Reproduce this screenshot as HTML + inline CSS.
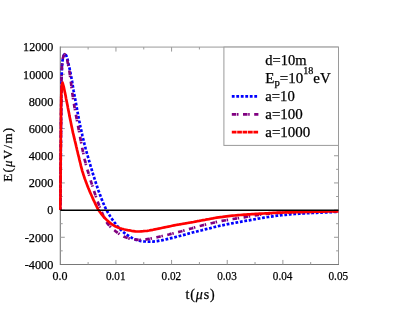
<!DOCTYPE html>
<html><head><meta charset="utf-8"><title>chart</title>
<style>html,body{margin:0;padding:0;background:#fff;overflow:hidden}svg{display:block}</style>
</head><body>
<svg width="399" height="312" viewBox="0 0 399 312">
<rect width="399" height="312" fill="#fff"/>
<path d="M60.3,47.08H338.5V264.44" fill="none" stroke="#9a9a9a" stroke-width="1.0"/>
<path d="M60.3,46.58V264.44H339.0" fill="none" stroke="#787878" stroke-width="1.1"/>
<path d="M88.12,264.44v-2.4M88.12,47.08v2.4M115.94,264.44v-4.5M115.94,47.08v4.5M143.76,264.44v-2.4M143.76,47.08v2.4M171.58,264.44v-4.5M171.58,47.08v4.5M199.40,264.44v-2.4M199.40,47.08v2.4M227.22,264.44v-4.5M255.04,264.44v-2.4M282.86,264.44v-4.5M310.68,264.44v-2.4M60.3,250.85h2.4M338.5,250.85h-2.4M60.3,237.27h4.5M338.5,237.27h-4.5M60.3,223.69h2.4M338.5,223.69h-2.4M60.3,210.10h4.5M338.5,210.10h-4.5M60.3,196.51h2.4M338.5,196.51h-2.4M60.3,182.93h4.5M338.5,182.93h-4.5M60.3,169.34h2.4M338.5,169.34h-2.4M60.3,155.76h4.5M338.5,155.76h-4.5M60.3,142.18h2.4M60.3,128.59h4.5M60.3,115.00h2.4M60.3,101.42h4.5M60.3,87.83h2.4M60.3,74.25h4.5M60.3,60.66h2.4" stroke="#9a9a9a" stroke-width="1" fill="none"/>
<path d="M60.4,210.0 L60.4,207.8 L60.4,205.6 L60.4,203.4 L60.4,201.2 L60.5,199.1 L60.5,196.9 L60.5,194.7 L60.5,192.5 L60.5,190.3 L60.5,188.1 L60.5,185.9 L60.6,183.7 L60.6,181.5 L60.6,179.4 L60.6,177.2 L60.6,175.0 L60.6,172.8 L60.6,170.6 L60.7,168.4 L60.7,166.2 L60.7,164.0 L60.7,161.8 L60.7,159.6 L60.7,157.5 L60.8,155.3 L60.8,153.1 L60.8,150.9 L60.8,148.7 L60.8,146.5 L60.8,144.3 L60.9,142.1 L60.9,139.9 L60.9,137.8 L60.9,135.6 L60.9,133.4 L61.0,131.2 L61.0,129.0 L61.0,126.8 L61.0,124.6 L61.0,122.4 L61.1,120.2 L61.1,118.1 L61.1,115.9 L61.1,113.7 L61.2,111.5 L61.2,109.3 L61.2,107.1 L61.2,104.9 L61.3,102.7 L61.3,100.5 L61.3,98.4 L61.3,96.2 L61.4,94.0 L61.4,91.8 L61.4,89.6 L61.5,87.4 L61.5,85.2 L61.5,83.0 L61.6,80.8 L61.6,78.6 L61.7,76.5 L61.7,74.3 L61.8,72.1 L61.9,69.9 L62.0,67.7 L62.1,65.5 L62.3,63.3 L62.5,61.2 L62.8,58.9 L63.3,56.8 L64.1,54.6 L65.4,54.1 L66.6,56.3 L67.3,58.4 L67.8,60.6 L68.2,62.7 L68.7,64.9 L69.2,67.0 L69.7,69.2 L70.2,71.3 L70.6,73.4 L71.0,75.6 L71.4,77.7 L71.8,79.9 L72.2,82.0 L72.5,84.2 L72.9,86.4 L73.3,88.5 L73.6,90.7 L74.0,92.8 L74.4,95.0 L74.8,97.1 L75.2,99.3 L75.6,101.5 L76.0,103.6 L76.4,105.8 L76.8,107.9 L77.2,110.1 L77.6,112.2 L78.0,114.4 L78.4,116.5 L78.8,118.7 L79.2,120.8 L79.7,123.0 L80.1,125.1 L80.5,127.3 L81.0,129.4 L81.5,131.5 L82.0,133.7 L82.4,135.8 L82.9,137.9 L83.5,140.1 L84.0,142.2 L84.5,144.3 L85.1,146.4 L85.6,148.5 L86.2,150.7 L86.8,152.8 L87.4,154.9 L88.0,157.0 L88.6,159.1 L89.2,161.2 L89.8,163.3 L90.4,165.4 L91.0,167.5 L91.7,169.6 L92.3,171.7 L92.9,173.8 L93.6,175.9 L94.3,178.0 L94.9,180.1 L95.6,182.1 L96.3,184.2 L97.0,186.3 L97.7,188.4 L98.4,190.4 L99.2,192.5 L99.9,194.6 L100.7,196.6 L101.5,198.7 L102.3,200.7 L103.1,202.7 L104.0,204.7 L104.9,206.7 L105.8,208.7 L106.8,210.6 L107.9,212.5 L109.0,214.4 L110.2,216.3 L111.4,218.1 L112.6,219.9 L113.9,221.7 L115.2,223.4 L116.6,225.2 L118.0,226.9 L119.5,228.5 L121.0,230.1 L122.6,231.5 L124.3,232.9 L126.0,234.3 L127.9,235.5 L129.7,236.6 L131.6,237.7 L133.6,238.7 L135.6,239.6 L137.7,240.3 L139.8,240.8 L142.0,241.2 L144.2,241.5 L146.3,241.5 L148.5,241.6 L150.7,241.6 L152.9,241.6 L155.1,241.4 L157.3,241.1 L159.4,240.7 L161.6,240.3 L163.7,239.9 L165.9,239.4 L168.0,238.9 L170.1,238.4 L172.3,237.9 L174.4,237.4 L176.5,236.8 L178.6,236.3 L180.7,235.7 L182.9,235.1 L185.0,234.6 L187.1,234.0 L189.2,233.4 L191.3,232.9 L193.4,232.3 L195.6,231.8 L197.7,231.2 L199.8,230.7 L201.9,230.2 L204.0,229.6 L206.2,229.1 L208.3,228.6 L210.4,228.1 L212.5,227.5 L214.7,227.0 L216.8,226.5 L218.9,226.0 L221.1,225.6 L223.2,225.1 L225.4,224.7 L227.5,224.2 L229.7,223.8 L231.8,223.4 L234.0,223.0 L236.1,222.6 L238.3,222.2 L240.4,221.8 L242.6,221.4 L244.7,221.0 L246.9,220.6 L249.0,220.3 L251.2,219.9 L253.4,219.5 L255.5,219.1 L257.7,218.7 L259.8,218.4 L262.0,218.0 L264.1,217.6 L266.3,217.3 L268.5,217.0 L270.6,216.6 L272.8,216.3 L275.0,216.0 L277.1,215.7 L279.3,215.5 L281.5,215.2 L283.7,215.0 L285.8,214.8 L288.0,214.6 L290.2,214.4 L292.4,214.2 L294.6,214.0 L296.8,213.9 L298.9,213.7 L301.1,213.6 L303.3,213.5 L305.5,213.3 L307.7,213.2 L309.9,213.1 L312.1,213.0 L314.2,212.9 L316.4,212.8 L318.6,212.7 L320.8,212.6 L323.0,212.5 L325.2,212.4 L327.4,212.3 L329.5,212.2 L331.7,212.1 L333.9,212.0 L336.1,212.0 L338.3,211.9" fill="none" stroke-width="2.7" stroke-linejoin="round" stroke="#0000ff" stroke-dasharray="2.8 1.7"/>
<path d="M60.4,210.0 L60.4,207.8 L60.4,205.6 L60.4,203.4 L60.4,201.2 L60.5,199.0 L60.5,196.8 L60.5,194.6 L60.5,192.4 L60.5,190.2 L60.5,188.0 L60.5,185.8 L60.6,183.6 L60.6,181.4 L60.6,179.2 L60.6,177.0 L60.6,174.8 L60.6,172.5 L60.6,170.3 L60.7,168.1 L60.7,165.9 L60.7,163.7 L60.7,161.5 L60.7,159.3 L60.7,157.1 L60.8,154.9 L60.8,152.7 L60.8,150.5 L60.8,148.3 L60.8,146.1 L60.9,143.9 L60.9,141.7 L60.9,139.5 L60.9,137.3 L60.9,135.1 L61.0,132.9 L61.0,130.7 L61.0,128.5 L61.0,126.3 L61.0,124.1 L61.1,121.9 L61.1,119.7 L61.1,117.5 L61.1,115.3 L61.2,113.1 L61.2,110.9 L61.2,108.7 L61.2,106.5 L61.3,104.3 L61.3,102.1 L61.3,99.8 L61.3,97.6 L61.3,95.4 L61.4,93.2 L61.4,91.0 L61.4,88.8 L61.4,86.6 L61.5,84.4 L61.5,82.2 L61.5,80.0 L61.5,77.8 L61.6,75.6 L61.6,73.4 L61.7,71.2 L61.8,69.0 L61.9,66.8 L62.1,64.6 L62.3,62.4 L62.5,60.2 L62.9,58.0 L63.5,55.9 L64.8,54.2 L66.0,55.8 L66.8,58.2 L67.3,60.3 L67.7,62.5 L68.1,64.6 L68.6,66.8 L69.0,69.0 L69.4,71.1 L69.7,73.3 L70.0,75.5 L70.3,77.7 L70.6,79.9 L70.9,82.0 L71.2,84.2 L71.4,86.4 L71.7,88.6 L72.0,90.8 L72.3,93.0 L72.6,95.2 L72.9,97.3 L73.2,99.5 L73.6,101.7 L74.0,103.9 L74.3,106.0 L74.7,108.2 L75.1,110.4 L75.5,112.5 L75.9,114.7 L76.3,116.9 L76.7,119.0 L77.1,121.2 L77.5,123.4 L78.0,125.5 L78.4,127.7 L78.8,129.9 L79.2,132.0 L79.6,134.2 L80.0,136.4 L80.4,138.5 L80.8,140.7 L81.2,142.9 L81.6,145.0 L82.0,147.2 L82.5,149.4 L82.9,151.5 L83.4,153.7 L83.8,155.8 L84.3,158.0 L84.8,160.1 L85.4,162.2 L85.9,164.4 L86.5,166.5 L87.1,168.6 L87.7,170.7 L88.4,172.8 L89.0,175.0 L89.6,177.1 L90.3,179.2 L90.9,181.3 L91.6,183.4 L92.2,185.5 L92.9,187.6 L93.6,189.7 L94.3,191.8 L95.0,193.9 L95.7,195.9 L96.4,198.0 L97.2,200.1 L97.9,202.2 L98.7,204.2 L99.4,206.3 L100.2,208.4 L101.1,210.4 L101.9,212.4 L102.8,214.5 L103.7,216.5 L104.7,218.6 L105.7,220.5 L106.8,222.4 L108.0,224.1 L109.4,225.8 L111.0,227.4 L112.6,228.9 L114.4,230.3 L116.1,231.7 L117.9,233.0 L119.7,234.3 L121.6,235.4 L123.6,236.5 L125.6,237.3 L127.6,238.0 L129.7,238.6 L131.9,239.1 L134.1,239.5 L136.3,239.6 L138.5,239.8 L140.7,239.9 L142.9,239.9 L145.1,239.6 L147.3,239.2 L149.4,238.8 L151.6,238.4 L153.8,238.0 L155.9,237.5 L158.1,237.0 L160.2,236.5 L162.4,236.0 L164.5,235.5 L166.6,235.0 L168.8,234.5 L170.9,233.9 L173.1,233.4 L175.2,232.8 L177.3,232.3 L179.5,231.7 L181.6,231.2 L183.7,230.6 L185.8,230.0 L187.9,229.4 L190.1,228.8 L192.2,228.2 L194.3,227.5 L196.4,226.9 L198.5,226.3 L200.7,225.8 L202.8,225.2 L204.9,224.7 L207.1,224.2 L209.2,223.7 L211.4,223.2 L213.5,222.7 L215.7,222.2 L217.8,221.8 L220.0,221.3 L222.1,220.9 L224.3,220.5 L226.5,220.1 L228.7,219.8 L230.8,219.4 L233.0,219.0 L235.2,218.7 L237.4,218.3 L239.5,218.0 L241.7,217.6 L243.9,217.3 L246.0,216.9 L248.2,216.5 L250.4,216.1 L252.6,215.8 L254.7,215.4 L256.9,215.1 L259.1,214.8 L261.3,214.5 L263.5,214.3 L265.7,214.0 L267.9,213.8 L270.1,213.6 L272.2,213.4 L274.4,213.2 L276.6,213.1 L278.8,213.0 L281.0,212.8 L283.2,212.7 L285.4,212.7 L287.6,212.6 L289.8,212.5 L292.0,212.4 L294.2,212.3 L296.4,212.3 L298.7,212.2 L300.9,212.1 L303.1,212.1 L305.3,212.0 L307.5,212.0 L309.7,211.9 L311.9,211.9 L314.1,211.8 L316.3,211.7 L318.5,211.7 L320.7,211.6 L322.9,211.6 L325.1,211.5 L327.3,211.5 L329.5,211.5 L331.7,211.4 L333.9,211.4 L336.1,211.3 L338.3,211.3" fill="none" stroke-width="2.7" stroke-linejoin="round" stroke="#800080" stroke-dasharray="4.5 0.7 1.5 4.5" stroke-dashoffset="5.7"/>
<path d="M60.4,210.0 L60.4,208.0 L60.4,206.1 L60.4,204.1 L60.4,202.1 L60.4,200.2 L60.4,198.2 L60.5,196.2 L60.5,194.3 L60.5,192.3 L60.5,190.3 L60.5,188.4 L60.5,186.4 L60.5,184.4 L60.5,182.5 L60.5,180.5 L60.6,178.5 L60.6,176.6 L60.6,174.6 L60.6,172.7 L60.6,170.7 L60.6,168.7 L60.6,166.8 L60.6,164.8 L60.6,162.8 L60.7,160.9 L60.7,158.9 L60.7,156.9 L60.7,155.0 L60.7,153.0 L60.7,151.0 L60.7,149.1 L60.8,147.1 L60.8,145.1 L60.8,143.2 L60.8,141.2 L60.8,139.2 L60.8,137.3 L60.9,135.3 L60.9,133.3 L60.9,131.4 L60.9,129.4 L60.9,127.4 L60.9,125.5 L61.0,123.5 L61.0,121.5 L61.0,119.6 L61.0,117.6 L61.0,115.6 L61.0,113.7 L61.0,111.7 L61.1,109.8 L61.1,107.8 L61.1,105.8 L61.1,103.9 L61.2,101.9 L61.2,99.9 L61.2,98.0 L61.3,96.0 L61.3,94.0 L61.4,92.1 L61.5,90.1 L61.6,88.1 L61.8,86.1 L62.1,83.6 L62.5,82.6 L63.1,84.5 L63.7,86.6 L64.1,88.5 L64.5,90.5 L64.9,92.4 L65.3,94.3 L65.7,96.3 L66.0,98.2 L66.4,100.1 L66.8,102.0 L67.2,104.0 L67.6,105.9 L67.9,107.8 L68.3,109.8 L68.7,111.7 L69.1,113.6 L69.4,115.6 L69.8,117.5 L70.2,119.4 L70.6,121.3 L71.0,123.3 L71.4,125.2 L71.8,127.1 L72.2,129.0 L72.6,131.0 L73.0,132.9 L73.5,134.8 L73.9,136.7 L74.4,138.6 L74.8,140.5 L75.3,142.4 L75.8,144.4 L76.2,146.3 L76.7,148.2 L77.1,150.1 L77.6,152.0 L78.0,153.9 L78.5,155.8 L79.0,157.7 L79.4,159.6 L79.9,161.6 L80.4,163.5 L80.8,165.4 L81.3,167.3 L81.8,169.2 L82.3,171.1 L82.9,172.9 L83.5,174.8 L84.1,176.7 L84.7,178.5 L85.4,180.4 L86.1,182.2 L86.8,184.1 L87.5,185.9 L88.2,187.8 L89.0,189.6 L89.7,191.4 L90.5,193.2 L91.3,195.0 L92.1,196.8 L92.9,198.6 L93.7,200.4 L94.6,202.2 L95.4,204.0 L96.3,205.7 L97.1,207.5 L98.1,209.2 L99.2,210.9 L100.3,212.5 L101.5,214.1 L102.7,215.6 L104.0,217.1 L105.3,218.5 L106.7,219.9 L108.2,221.3 L109.7,222.6 L111.2,223.8 L112.8,224.9 L114.5,225.9 L116.3,226.7 L118.1,227.5 L120.0,228.2 L121.9,228.8 L123.7,229.3 L125.7,229.7 L127.6,230.1 L129.5,230.4 L131.5,230.8 L133.4,231.1 L135.4,231.4 L137.3,231.5 L139.3,231.5 L141.3,231.3 L143.2,231.2 L145.2,231.0 L147.1,230.8 L149.1,230.5 L151.0,230.1 L152.9,229.8 L154.9,229.4 L156.8,229.0 L158.7,228.6 L160.6,228.2 L162.6,227.8 L164.5,227.4 L166.4,227.0 L168.3,226.6 L170.3,226.2 L172.2,225.8 L174.1,225.4 L176.0,225.0 L178.0,224.7 L179.9,224.3 L181.9,224.0 L183.8,223.7 L185.7,223.3 L187.7,223.0 L189.6,222.7 L191.5,222.3 L193.5,222.0 L195.4,221.6 L197.3,221.2 L199.3,220.9 L201.2,220.5 L203.1,220.1 L205.1,219.8 L207.0,219.4 L208.9,219.1 L210.9,218.7 L212.8,218.4 L214.7,218.0 L216.7,217.7 L218.6,217.4 L220.6,217.1 L222.5,216.9 L224.5,216.6 L226.4,216.3 L228.4,216.1 L230.3,215.9 L232.3,215.7 L234.2,215.5 L236.2,215.3 L238.1,215.1 L240.1,215.0 L242.1,214.8 L244.0,214.7 L246.0,214.6 L247.9,214.4 L249.9,214.3 L251.9,214.2 L253.8,214.1 L255.8,213.9 L257.8,213.8 L259.7,213.7 L261.7,213.6 L263.6,213.5 L265.6,213.4 L267.6,213.3 L269.5,213.1 L271.5,213.0 L273.5,212.9 L275.4,212.8 L277.4,212.7 L279.3,212.6 L281.3,212.6 L283.3,212.5 L285.2,212.4 L287.2,212.4 L289.2,212.3 L291.1,212.2 L293.1,212.2 L295.1,212.1 L297.0,212.1 L299.0,212.0 L301.0,212.0 L302.9,212.0 L304.9,211.9 L306.9,211.9 L308.8,211.8 L310.8,211.8 L312.7,211.7 L314.7,211.7 L316.7,211.7 L318.6,211.6 L320.6,211.6 L322.6,211.6 L324.5,211.5 L326.5,211.5 L328.5,211.4 L330.4,211.4 L332.4,211.4 L334.4,211.4 L336.3,211.3 L338.3,211.3" fill="none" stroke-width="2.7" stroke-linejoin="round" stroke="#ff0000"/>
<line x1="60.3" x2="338.5" y1="210.29999999999998" y2="210.29999999999998" stroke="#000" stroke-width="1.6"/>
<rect x="223.9" y="47.08" width="114.60" height="98.32" fill="#fff" stroke="#9a9a9a" stroke-width="1.0"/>
<filter id="gs" x="-5%" y="-5%" width="110%" height="110%" color-interpolation-filters="sRGB"><feColorMatrix type="saturate" values="0"/></filter>
<g filter="url(#gs)">
<text x="53.3" y="268.74" text-anchor="end" font-size="12.5" font-family="Liberation Serif, serif" fill="#000" stroke="#000" stroke-width="0.25" textLength="28.6" lengthAdjust="spacingAndGlyphs">-4000</text>
<text x="53.3" y="241.57" text-anchor="end" font-size="12.5" font-family="Liberation Serif, serif" fill="#000" stroke="#000" stroke-width="0.25" textLength="28.6" lengthAdjust="spacingAndGlyphs">-2000</text>
<text x="53.3" y="214.40" text-anchor="end" font-size="12.5" font-family="Liberation Serif, serif" fill="#000" stroke="#000" stroke-width="0.25" textLength="6" lengthAdjust="spacingAndGlyphs">0</text>
<text x="53.3" y="187.23" text-anchor="end" font-size="12.5" font-family="Liberation Serif, serif" fill="#000" stroke="#000" stroke-width="0.25" textLength="24.6" lengthAdjust="spacingAndGlyphs">2000</text>
<text x="53.3" y="160.06" text-anchor="end" font-size="12.5" font-family="Liberation Serif, serif" fill="#000" stroke="#000" stroke-width="0.25" textLength="24.6" lengthAdjust="spacingAndGlyphs">4000</text>
<text x="53.3" y="132.89" text-anchor="end" font-size="12.5" font-family="Liberation Serif, serif" fill="#000" stroke="#000" stroke-width="0.25" textLength="24.6" lengthAdjust="spacingAndGlyphs">6000</text>
<text x="53.3" y="105.72" text-anchor="end" font-size="12.5" font-family="Liberation Serif, serif" fill="#000" stroke="#000" stroke-width="0.25" textLength="24.6" lengthAdjust="spacingAndGlyphs">8000</text>
<text x="53.3" y="78.55" text-anchor="end" font-size="12.5" font-family="Liberation Serif, serif" fill="#000" stroke="#000" stroke-width="0.25" textLength="30.2" lengthAdjust="spacingAndGlyphs">10000</text>
<text x="53.3" y="51.38" text-anchor="end" font-size="12.5" font-family="Liberation Serif, serif" fill="#000" stroke="#000" stroke-width="0.25" textLength="30.2" lengthAdjust="spacingAndGlyphs">12000</text>
<text x="60.10" y="280.4" text-anchor="middle" font-size="12.5" font-family="Liberation Serif, serif" fill="#000" stroke="#000" stroke-width="0.25" textLength="15" lengthAdjust="spacingAndGlyphs">0.0</text>
<text x="115.74" y="280.4" text-anchor="middle" font-size="12.5" font-family="Liberation Serif, serif" fill="#000" stroke="#000" stroke-width="0.25" textLength="19.6" lengthAdjust="spacingAndGlyphs">0.01</text>
<text x="171.38" y="280.4" text-anchor="middle" font-size="12.5" font-family="Liberation Serif, serif" fill="#000" stroke="#000" stroke-width="0.25" textLength="19.6" lengthAdjust="spacingAndGlyphs">0.02</text>
<text x="227.02" y="280.4" text-anchor="middle" font-size="12.5" font-family="Liberation Serif, serif" fill="#000" stroke="#000" stroke-width="0.25" textLength="19.6" lengthAdjust="spacingAndGlyphs">0.03</text>
<text x="282.66" y="280.4" text-anchor="middle" font-size="12.5" font-family="Liberation Serif, serif" fill="#000" stroke="#000" stroke-width="0.25" textLength="19.6" lengthAdjust="spacingAndGlyphs">0.04</text>
<text x="338.30" y="280.4" text-anchor="middle" font-size="12.5" font-family="Liberation Serif, serif" fill="#000" stroke="#000" stroke-width="0.25" textLength="19.6" lengthAdjust="spacingAndGlyphs">0.05</text>
<text transform="translate(12.2,181.8) rotate(-90)" font-size="13" font-family="Liberation Serif, serif" fill="#000" stroke="#000" stroke-width="0.25" textLength="54" lengthAdjust="spacing">E(<tspan font-style="italic">μ</tspan>V/m)</text>
<text x="185.5" y="298.8" font-size="14" font-family="Liberation Serif, serif" fill="#000" stroke="#000" stroke-width="0.25" textLength="29.2" lengthAdjust="spacing">t(<tspan font-style="italic">μ</tspan>s)</text>
<text x="265.3" y="65" font-size="14" font-family="Liberation Serif, serif" fill="#000" stroke="#000" stroke-width="0.25" textLength="41.3" lengthAdjust="spacingAndGlyphs">d=10m</text>
<text x="265.3" y="83.1" font-size="14" font-family="Liberation Serif, serif" fill="#000" stroke="#000" stroke-width="0.25" textLength="65.5" lengthAdjust="spacingAndGlyphs">E<tspan font-size="10" dy="3">p</tspan><tspan dy="-3">=10</tspan><tspan font-size="9.5" dy="-8.8">18</tspan><tspan dy="8.8">eV</tspan></text>
<text x="265.3" y="101.1" font-size="14" font-family="Liberation Serif, serif" fill="#000" stroke="#000" stroke-width="0.25" textLength="29.5" lengthAdjust="spacingAndGlyphs">a=10</text>
<text x="265.3" y="119.2" font-size="14" font-family="Liberation Serif, serif" fill="#000" stroke="#000" stroke-width="0.25" textLength="37.5" lengthAdjust="spacingAndGlyphs">a=100</text>
<text x="265.3" y="137.2" font-size="14" font-family="Liberation Serif, serif" fill="#000" stroke="#000" stroke-width="0.25" textLength="45.0" lengthAdjust="spacingAndGlyphs">a=1000</text>
</g>
<line x1="231.8" x2="257.3" y1="96.3" y2="96.3" stroke="#0000ff" stroke-width="2.7" stroke-dasharray="2.8 1.7"/>
<line x1="231.8" x2="258.4" y1="114.4" y2="114.4" stroke="#800080" stroke-width="2.7" stroke-dasharray="4.5 0.7 1.5 4.5"/>
<line x1="231.8" x2="258.3" y1="132.2" y2="132.2" stroke="#ff0000" stroke-width="2.7" stroke-dasharray="4.7 0.7"/>
</svg>
</body></html>
